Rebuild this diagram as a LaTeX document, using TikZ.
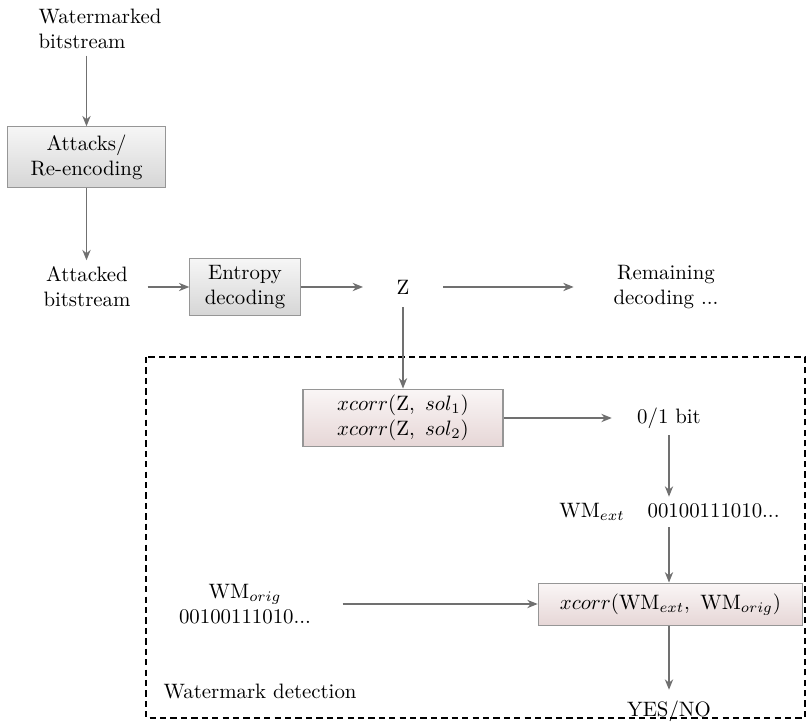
\documentclass[tikz,border=0pt]{standalone}
\usetikzlibrary{arrows.meta}
\definecolor{boxline}{RGB}{150,150,150}
\definecolor{graytop}{RGB}{246,246,246}
\definecolor{graybot}{RGB}{214,214,214}
\definecolor{pinktop}{RGB}{250,246,246}
\definecolor{pinkbot}{RGB}{230,214,214}
\definecolor{arrowgray}{RGB}{112,112,112}
\begin{document}
\begin{tikzpicture}[x=0.48pt,y=-0.48pt,
  graybox/.style={draw=boxline, line width=0.5pt, top color=graytop, bottom color=graybot, align=center, inner sep=0pt},
  pinkbox/.style={draw=boxline, line width=0.5pt, top color=pinktop, bottom color=pinkbot, align=center, inner sep=0pt},
  lbl/.style={align=center, inner sep=3pt},
  arr/.style={draw=arrowgray, line width=0.6pt, -{Stealth[length=5pt,width=4pt]}}]
\useasboundingbox (0,0) rectangle (807,722);

\node[lbl, align=left] (wm) at (100,29) {Watermarked\\bitstream};
\node[graybox, minimum width=76pt, minimum height=29pt] (atk) at (86.5,157) {Attacks/\\Re-encoding};
\node[lbl] (abs) at (87,287) {Attacked\\bitstream};
\node[graybox, minimum width=53pt, minimum height=27.4pt] (ent) at (245,287) {Entropy\\decoding};
\node[inner sep=0pt, minimum width=38pt, minimum height=19pt] (z) at (403,287) {Z};
\node[lbl] (rem) at (666,287) {Remaining\\decoding ...};

\node[pinkbox, minimum width=96pt, minimum height=27.8pt] (xc) at (403,418) {$xcorr(\mathrm{Z},\ sol_1)$\\$xcorr(\mathrm{Z},\ sol_2)$};
\node[lbl] (bit) at (669,418) {0/1 bit};
\node[lbl] (ext) at (669.5,512) {WM$_{ext}$\hspace{11pt}00100111010...};
\node[pinkbox, minimum width=127pt, minimum height=20.6pt] (xc2) at (670.5,604.5) {$xcorr(\mathrm{WM}_{ext},\ \mathrm{WM}_{orig})$};
\node[lbl] (orig) at (245,604) {WM$_{orig}$\\00100111010...};
\node[lbl] (yn) at (669,711) {YES/NO};
\node[lbl, anchor=west] (det) at (157,691) {Watermark detection};

\draw[black, line width=0.7pt, dash pattern=on 3pt off 2pt] (146,357) rectangle (805,718);

\draw[arr] (wm.south -| atk) -- (atk.north);
\draw[arr] (atk.south) -- (abs.north -| atk);
\draw[arr, shorten <=5pt] (abs.east) -- (ent.west |- abs.east);
\draw[arr] (ent.east) -- (z.west |- ent.east);
\draw[arr, shorten >=16pt] (z.east) -- (rem.west |- z.east);
\draw[arr] (z.south) -- (xc.north);
\draw[arr, shorten >=9pt] (xc.east) -- (bit.west |- xc.east);
\draw[arr] (bit.south) -- (ext.north -| bit);
\draw[arr] (ext.south -| bit) -- (xc2.north -| bit);
\draw[arr, shorten <=12pt] (orig.east) -- (xc2.west |- orig.east);
\draw[arr, shorten >=2pt] (xc2.south -| bit) -- (yn.north);
\end{tikzpicture}
\end{document}
